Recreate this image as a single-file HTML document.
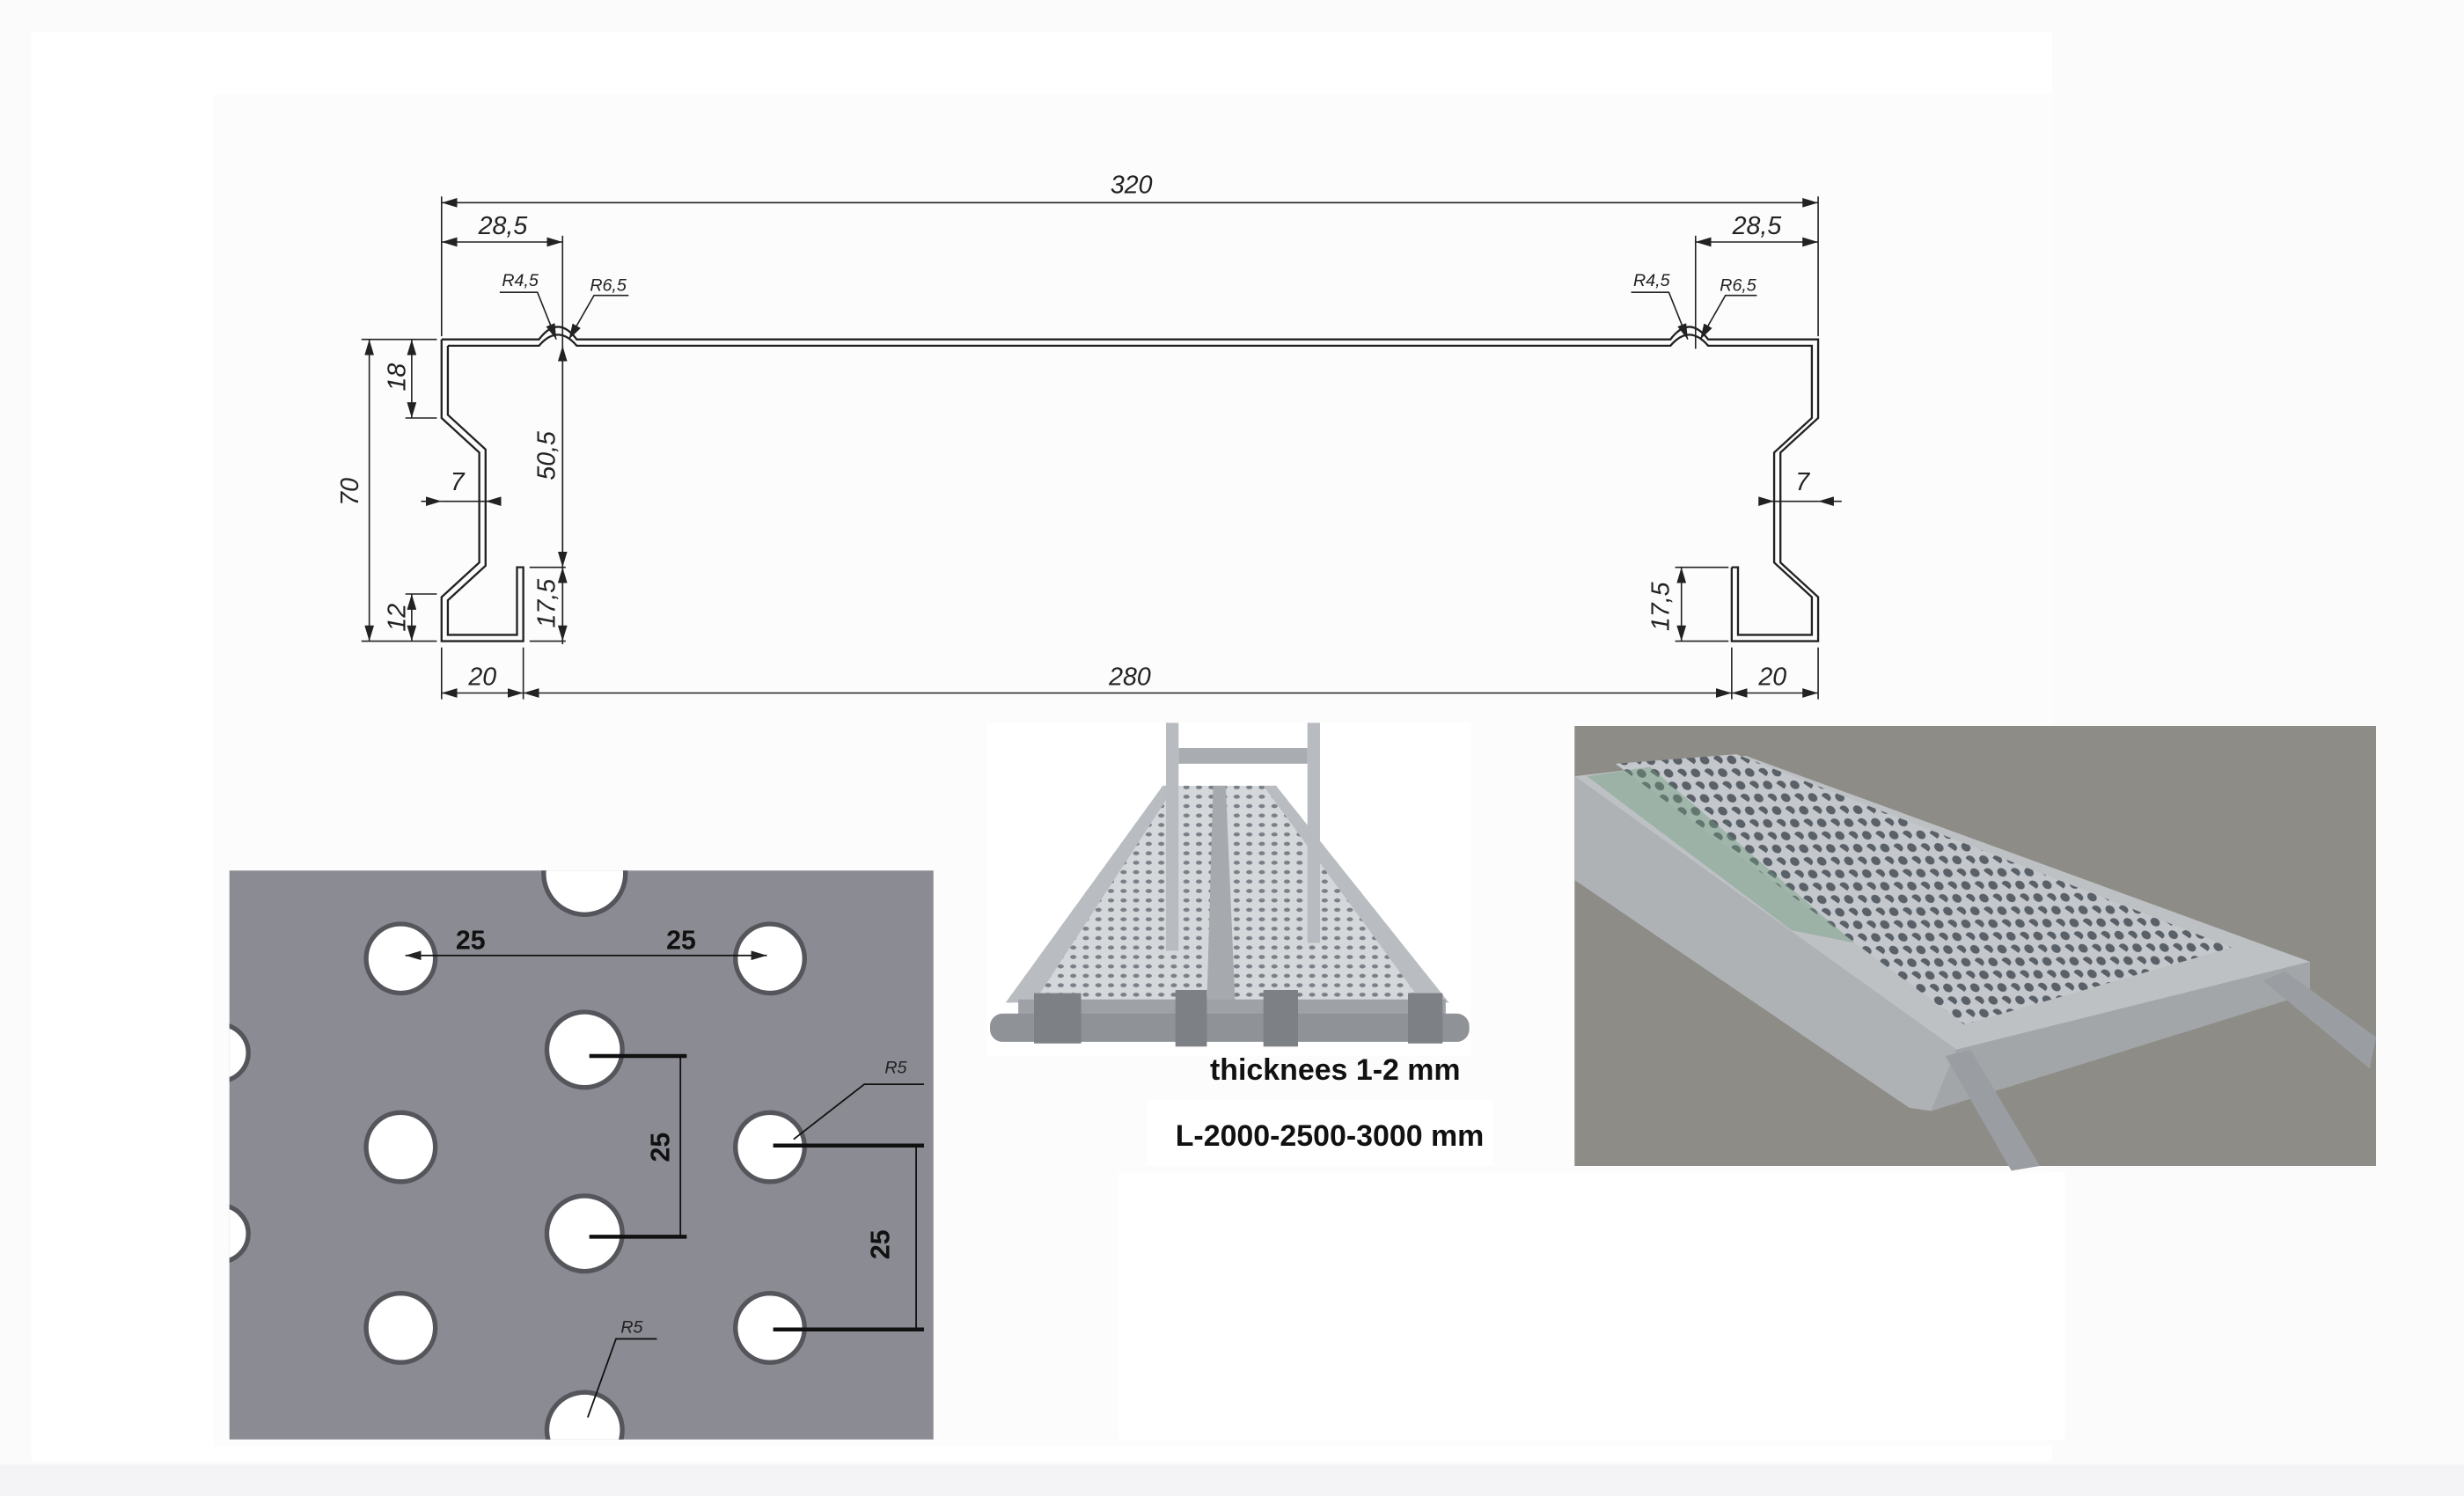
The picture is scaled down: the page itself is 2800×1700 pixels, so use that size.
<!DOCTYPE html>
<html><head><meta charset="utf-8"><style>
html,body{margin:0;padding:0;background:#fff}
svg{display:block}
.d{font-family:"Liberation Sans",sans-serif;font-style:italic;font-size:16px;fill:#222}
.s{font-family:"Liberation Sans",sans-serif;font-style:italic;font-size:11px;fill:#222}
.b{font-family:"Liberation Sans",sans-serif;font-weight:bold;font-size:19px;fill:#111}
</style></head><body>
<svg width="2800" height="1700" viewBox="0 0 1568 952" xmlns="http://www.w3.org/2000/svg">
<defs>
<marker id="a" viewBox="0 0 10 6" refX="10" refY="3" markerWidth="10" markerHeight="6" orient="auto-start-reverse" markerUnits="userSpaceOnUse"><path d="M0,0L10,3L0,6z" fill="#222"/></marker>
<pattern id="ph" width="14" height="10" patternUnits="userSpaceOnUse" patternTransform="rotate(35)"><rect width="14" height="10" fill="#c4c8cc"/><ellipse cx="4" cy="4" rx="3.2" ry="2.5" fill="#5a6068"/><ellipse cx="11" cy="9" rx="3.2" ry="2.5" fill="#5a6068"/></pattern>
<pattern id="pm" width="8" height="6" patternUnits="userSpaceOnUse"><rect width="8" height="6" fill="#d5d8db"/><ellipse cx="3" cy="3" rx="2" ry="1.3" fill="#7a8088"/></pattern>
<clipPath id="cp"><rect x="146" y="554" width="448" height="362"/></clipPath>
</defs>
<rect width="1568" height="952" fill="#fbfbfb"/>
<rect x="20" y="20" width="1286" height="910" fill="#fff"/>
<rect x="0" y="932" width="1568" height="20" fill="#f4f4f6"/>
<rect x="136" y="60" width="1170" height="860" fill="#fcfcfc"/>

<!-- profile -->
<g fill="none" stroke="#222" stroke-width="1.3">
<path d="M281,216 L343,216 Q355,200 367,216 L1063,216 Q1075,200 1087,216 L1157,216 L1157,266 L1133,288 L1133,358 L1157,380 L1157,408 L1102,408 L1102,361"/>
<path d="M285,220 L343,220 Q355,206 367,220 L1063,220 Q1075,206 1087,220 L1153,220 L1153,266 L1129,288 L1129,358 L1153,380 L1153,404 L1106,404 L1106,361 L1102,361"/>
<path d="M281,216 L281,266 L305,288 L305,358 L281,380 L281,408 L333,408 L333,361 L329,361 L329,404 L285,404 L285,382 L309,360 L309,286 L285,264 L285,220"/>
</g>
<!-- dimensions -->
<g stroke="#222" stroke-width="0.9" fill="none">
<line x1="281" y1="125" x2="281" y2="214"/><line x1="1157" y1="125" x2="1157" y2="214"/>
<line x1="358" y1="150" x2="358" y2="410"/><line x1="1079" y1="150" x2="1079" y2="222"/>
<line x1="281" y1="129" x2="1157" y2="129" marker-start="url(#a)" marker-end="url(#a)"/>
<line x1="281" y1="154" x2="358" y2="154" marker-start="url(#a)" marker-end="url(#a)"/>
<line x1="1079" y1="154" x2="1157" y2="154" marker-start="url(#a)" marker-end="url(#a)"/>
<polyline points="318,186 342,186 354,216" marker-end="url(#a)"/>
<polyline points="400,188 378,188 362,216" marker-end="url(#a)"/>
<polyline points="1038,186 1062,186 1074,216" marker-end="url(#a)"/>
<polyline points="1118,188 1098,188 1082,216" marker-end="url(#a)"/>
<line x1="230" y1="216" x2="278" y2="216"/><line x1="230" y1="408" x2="278" y2="408"/>
<line x1="235" y1="216" x2="235" y2="408" marker-start="url(#a)" marker-end="url(#a)"/>
<line x1="258" y1="266" x2="278" y2="266"/><line x1="258" y1="378" x2="278" y2="378"/>
<line x1="262" y1="216" x2="262" y2="266" marker-start="url(#a)" marker-end="url(#a)"/>
<line x1="262" y1="378" x2="262" y2="408" marker-start="url(#a)" marker-end="url(#a)"/>
<line x1="268" y1="319" x2="281" y2="319" marker-end="url(#a)"/><line x1="318" y1="319" x2="309" y2="319" marker-end="url(#a)"/><line x1="281" y1="319" x2="309" y2="319"/>
<line x1="358" y1="220" x2="358" y2="361" marker-start="url(#a)" marker-end="url(#a)"/>
<line x1="358" y1="361" x2="358" y2="408" marker-start="url(#a)" marker-end="url(#a)"/>
<line x1="337" y1="361" x2="360" y2="361"/><line x1="337" y1="408" x2="360" y2="408"/>
<line x1="1120" y1="319" x2="1129" y2="319" marker-end="url(#a)"/><line x1="1172" y1="319" x2="1157" y2="319" marker-end="url(#a)"/><line x1="1129" y1="319" x2="1157" y2="319"/>
<line x1="1066" y1="361" x2="1100" y2="361"/><line x1="1066" y1="408" x2="1100" y2="408"/>
<line x1="1070" y1="361" x2="1070" y2="408" marker-start="url(#a)" marker-end="url(#a)"/>
<line x1="281" y1="412" x2="281" y2="445"/><line x1="333" y1="412" x2="333" y2="445"/>
<line x1="1102" y1="412" x2="1102" y2="445"/><line x1="1157" y1="412" x2="1157" y2="445"/>
<line x1="281" y1="441" x2="333" y2="441" marker-start="url(#a)" marker-end="url(#a)"/>
<line x1="333" y1="441" x2="1102" y2="441" marker-start="url(#a)" marker-end="url(#a)"/>
<line x1="1102" y1="441" x2="1157" y2="441" marker-start="url(#a)" marker-end="url(#a)"/>
</g>
<g class="d">
<text x="720" y="123" text-anchor="middle">320</text>
<text x="320" y="149" text-anchor="middle">28,5</text>
<text x="1118" y="149" text-anchor="middle">28,5</text>
<text x="291" y="312" text-anchor="middle">7</text>
<text x="1147" y="312" text-anchor="middle">7</text>
<text x="307" y="436" text-anchor="middle">20</text>
<text x="719" y="436" text-anchor="middle">280</text>
<text x="1128" y="436" text-anchor="middle">20</text>
<text transform="translate(228,313) rotate(-90)" text-anchor="middle">70</text>
<text transform="translate(258,240) rotate(-90)" text-anchor="middle">18</text>
<text transform="translate(258,393) rotate(-90)" text-anchor="middle">12</text>
<text transform="translate(353,290) rotate(-90)" text-anchor="middle">50,5</text>
<text transform="translate(353,384) rotate(-90)" text-anchor="middle">17,5</text>
<text transform="translate(1062,386) rotate(-90)" text-anchor="middle">17,5</text>
</g>
<g class="s">
<text x="331" y="182" text-anchor="middle">R4,5</text><text x="387" y="185" text-anchor="middle">R6,5</text>
<text x="1051" y="182" text-anchor="middle">R4,5</text><text x="1106" y="185" text-anchor="middle">R6,5</text>
</g>

<!-- perforated plate -->
<rect x="146" y="554" width="448" height="362" fill="#8b8b93"/>
<g fill="#fff" stroke="#55555c" stroke-width="3" clip-path="url(#cp)">
<circle cx="372" cy="556" r="26"/>
<circle cx="255" cy="610" r="22"/><circle cx="490" cy="610" r="22"/>
<circle cx="372" cy="668" r="24"/>
<circle cx="255" cy="730" r="22"/><circle cx="490" cy="730" r="22"/>
<circle cx="372" cy="785" r="24"/>
<circle cx="255" cy="845" r="22"/><circle cx="490" cy="845" r="22"/>
<circle cx="372" cy="910" r="24"/>
<circle cx="140" cy="670" r="18"/><circle cx="140" cy="785" r="18"/>
</g>
<g stroke="#111" stroke-width="2.5">
<line x1="375" y1="672" x2="437" y2="672"/><line x1="375" y1="787" x2="437" y2="787"/>
<line x1="492" y1="729" x2="588" y2="729"/><line x1="492" y1="846" x2="588" y2="846"/>
</g>
<g stroke="#111" stroke-width="1" fill="none">
<line x1="433" y1="672" x2="433" y2="787"/><line x1="583" y1="729" x2="583" y2="846"/>
<line x1="258" y1="608" x2="370" y2="608" marker-start="url(#a)"/><line x1="370" y1="608" x2="488" y2="608" marker-end="url(#a)"/>
<polyline points="588,690 550,690 505,725"/><polyline points="418,852 392,852 374,902"/>
</g>
<g font-family="Liberation Sans,sans-serif" font-weight="bold" font-size="17" fill="#111">
<text x="290" y="604">25</text><text x="424" y="604">25</text>
<text transform="translate(426,730) rotate(-90)" text-anchor="middle">25</text>
<text transform="translate(566,792) rotate(-90)" text-anchor="middle">25</text>
</g>
<g class="s" font-size="15" fill="#555"><text x="563" y="683">R5</text><text x="395" y="848">R5</text></g>

<!-- middle photo -->
<rect x="628" y="460" width="308" height="212" fill="#fff"/>
<polygon points="740,500 812,500 922,638 640,638" fill="url(#pm)"/>
<polygon points="740,500 748,500 658,638 640,638" fill="#b9bcc0"/>
<polygon points="804,500 812,500 922,638 905,638" fill="#b9bcc0"/>
<polygon points="772,500 780,500 786,638 768,638" fill="#a6a9ae"/>
<rect x="742" y="460" width="8" height="145" fill="#b8bbbf"/><rect x="832" y="460" width="8" height="140" fill="#b8bbbf"/>
<rect x="750" y="476" width="82" height="10" fill="#a9acb0"/>
<rect x="648" y="636" width="272" height="10" fill="#9ea1a6"/>
<rect x="630" y="645" width="305" height="18" rx="8" fill="#8f9297"/>
<g fill="#7d8085"><rect x="658" y="632" width="30" height="32"/><rect x="748" y="630" width="20" height="36"/><rect x="804" y="630" width="22" height="36"/><rect x="896" y="632" width="22" height="32"/></g>
<rect x="730" y="700" width="220" height="42" fill="#fff"/>
<text class="b" x="770" y="687">thicknees  1-2 mm</text>
<text class="b" x="748" y="729">L-2000-2500-3000 mm</text>
<rect x="712" y="746" width="602" height="170" fill="#fff"/>

<!-- right photo -->
<rect x="1002" y="462" width="510" height="280" fill="#8e8c87"/>
<polygon points="1002,494 1111,481 1470,612 1245,668" fill="#bdc1c4"/>
<polygon points="1002,494 1245,668 1229,707 1215,705 1002,560" fill="#aeb2b5"/>
<polygon points="1245,668 1470,612 1470,632 1229,707" fill="#a2a6a9"/>
<polygon points="1028,486 1105,480 1420,603 1250,652" fill="url(#ph)"/>
<polygon points="1010,494 1050,488 1180,600 1140,592" fill="#6f9a7a" opacity="0.4"/>
<polygon points="1238,672 1254,668 1298,742 1280,745" fill="#9a9ea2"/>
<polygon points="1440,624 1454,618 1512,660 1508,680" fill="#9a9ea2"/>
</svg>
</body></html>
